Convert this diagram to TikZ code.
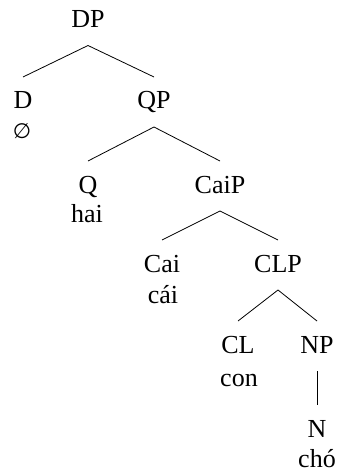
\documentclass[tikz,border=0pt]{standalone}
\usepackage{fontspec}
\setmainfont{Liberation Serif}
\newfontfamily\emptysetfont{DejaVu Sans}
\begin{document}
\begin{tikzpicture}[x=1pt,y=-1pt,
  cat/.style={anchor=base, inner sep=0pt, font=\fontsize{26}{30}\selectfont},
  word/.style={anchor=base, inner sep=0pt, font=\fontsize{26}{30}\selectfont},
  branch/.style={line width=0.8pt}]
\useasboundingbox (0,0) rectangle (341,473);

% category labels and lexical items
\node[cat]  (dp)    at (88,27.5) {DP};
\node[cat]  (d)     at (23,109)  {D};
\node[word, font=\emptysetfont\fontsize{21}{24}\selectfont] (dnull) at (22,139) {∅};
\node[cat]  (qp)    at (154,109) {QP};
\node[cat]  (q)     at (88,193)  {Q};
\node[word] (hai)   at (87,222)  {hai};
\node[cat]  (caip)  at (220,193) {CaiP};
\node[cat]  (cai)   at (162,272) {Cai};
\node[word] (caiw)  at (163,303) {cái};
\node[cat]  (clp)   at (278,272) {CLP};
\node[cat]  (cl)    at (238,353) {CL};
\node[word] (con)   at (239,386) {con};
\node[cat]  (np)    at (317,353) {NP};
\node[cat]  (n)     at (317,437) {N};
\node[word] (cho)   at (317,467) {chó};

% branches: from below a mother's baseline to above a daughter's label
\tikzset{mother/.style={yshift=-18pt}, daughter/.style={yshift=32pt}}
\draw[branch] ([mother]dp.base) -- ([daughter]d.base);
\draw[branch] ([mother]dp.base) -- ([daughter]qp.base);
\draw[branch] ([mother]qp.base) -- ([daughter]q.base);
\draw[branch] ([mother]qp.base) -- ([daughter]caip.base);
\draw[branch] ([mother]caip.base) -- ([daughter]cai.base);
\draw[branch] ([mother]caip.base) -- ([daughter]clp.base);
\draw[branch] ([mother]clp.base) -- ([daughter]cl.base);
\draw[branch] ([mother]clp.base) -- ([daughter]np.base);
\draw[branch] ([mother]np.base) -- ([daughter]n.base);
\end{tikzpicture}
\end{document}
